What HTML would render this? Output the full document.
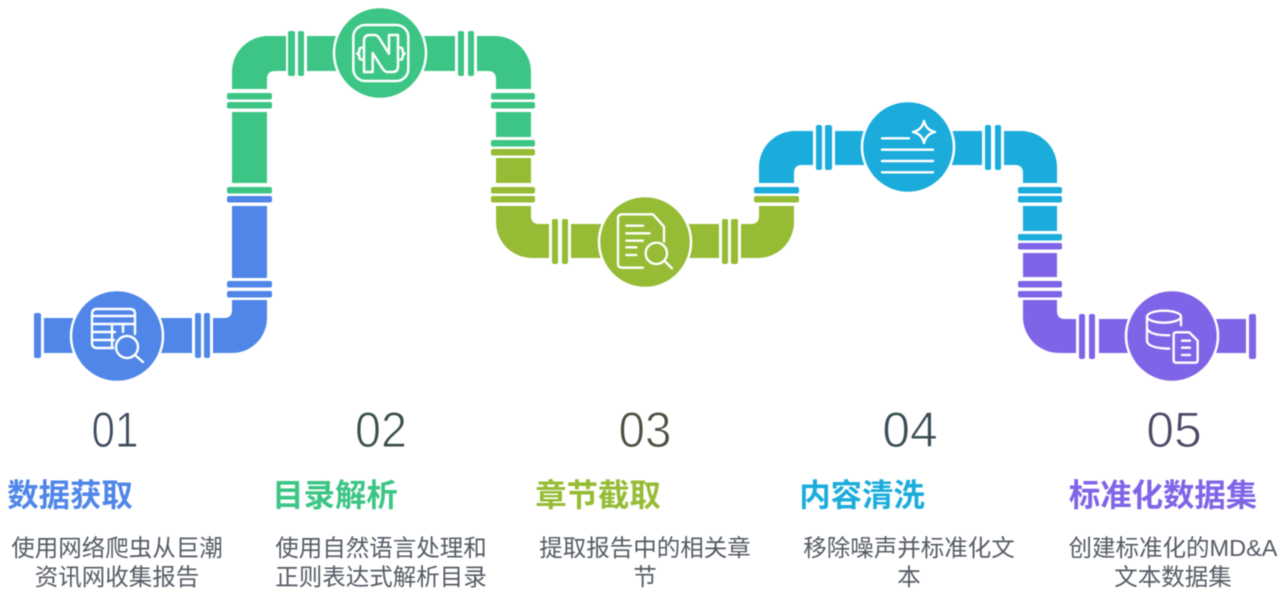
<!DOCTYPE html>
<html><head><meta charset="utf-8">
<style>
html,body{margin:0;padding:0;background:#fff;width:1281px;height:609px;overflow:hidden}
svg{display:block}
.i{fill:none;stroke:#fff;stroke-width:2.4;stroke-linecap:round;stroke-linejoin:round}
.n{font-family:"Liberation Sans",sans-serif;font-size:50px;text-anchor:middle;stroke:#fff;stroke-width:1px}
.t{font-family:"Liberation Sans","Noto Sans CJK SC",sans-serif;font-size:31.4px;font-weight:700;text-anchor:middle}
.b{font-family:"Liberation Sans","Noto Sans CJK SC",sans-serif;font-size:23.5px;text-anchor:middle;fill:#555b65}
.g{filter:blur(0.55px)}
</style></head><body>
<svg width="1281" height="609" viewBox="0 0 1281 609" xmlns="http://www.w3.org/2000/svg">
<g class="g">
<!-- blue -->
<g fill="#4f86e8">
<rect x="34" y="313" width="7" height="45" rx="2"/>
<rect x="44" y="318" width="40" height="35"/>
<rect x="150" y="318" width="42" height="35"/>
<rect x="195" y="313" width="6" height="45" rx="2"/>
<rect x="204" y="313" width="6" height="45" rx="2"/>
<path d="M213 318L224 318Q232 318 232 310L232 300L267 300L267 318A35 35 0 0 1 232 353L213 353Z"/>
<rect x="227" y="281" width="45" height="6.5" rx="2"/>
<rect x="227" y="291" width="45" height="6.5" rx="2"/>
<rect x="232" y="206" width="35" height="72"/>
<rect x="227" y="196" width="45" height="6.5" rx="2"/>
</g>
<!-- green -->
<g fill="#3cc584">
<rect x="227" y="187" width="45" height="6.5" rx="2"/>
<rect x="232" y="112" width="35" height="71"/>
<rect x="227" y="102" width="45" height="6.5" rx="2"/>
<rect x="227" y="93" width="45" height="6.5" rx="2"/>
<path d="M286 36L268 36A36 36 0 0 0 232 72L232 89L267 89L267 79Q267 71 275 71L286 71Z"/>
<rect x="288" y="31" width="7" height="45" rx="2"/>
<rect x="298" y="31" width="6" height="45" rx="2"/>
<rect x="307" y="36" width="40" height="35"/>
<rect x="415" y="36" width="40" height="35"/>
<rect x="458" y="31" width="6" height="45" rx="2"/>
<rect x="468" y="31" width="6" height="45" rx="2"/>
<path d="M477 36L495 36A36 36 0 0 1 531 72L531 89L496 89L496 79Q496 71 488 71L477 71Z"/>
<rect x="491" y="93" width="44" height="6.5" rx="2"/>
<rect x="491" y="102" width="44" height="6.5" rx="2"/>
<rect x="496" y="112" width="35" height="25"/>
<rect x="491" y="140" width="44" height="6.5" rx="2"/>
</g>
<!-- olive -->
<g fill="#96bc35">
<rect x="491" y="149" width="44" height="6.5" rx="2"/>
<rect x="496" y="158" width="35" height="25"/>
<rect x="491" y="187" width="44" height="6.5" rx="2"/>
<rect x="491" y="196" width="44" height="6.5" rx="2"/>
<path d="M496 206L531 206L531 216Q531 224 539 224L549 224L549 258L532 258A36 36 0 0 1 496 222Z"/>
<rect x="552" y="219" width="6" height="45" rx="2"/>
<rect x="562" y="219" width="6" height="45" rx="2"/>
<rect x="571" y="224" width="40" height="34"/>
<rect x="680" y="224" width="39" height="34"/>
<rect x="722" y="219" width="6" height="45" rx="2"/>
<rect x="731" y="219" width="7" height="45" rx="2"/>
<path d="M741 224L751 224Q759 224 759 216L759 206L794 206L794 222A36 36 0 0 1 758 258L741 258Z"/>
<rect x="754" y="196" width="45" height="6.5" rx="2"/>
</g>
<!-- cyan -->
<g fill="#1bacdc">
<rect x="754" y="187" width="45" height="6.5" rx="2"/>
<path d="M813 131L795 131A36 36 0 0 0 759 167L759 183L794 183L794 173Q794 165 802 165L813 165Z"/>
<rect x="816" y="125" width="6" height="45" rx="2"/>
<rect x="825" y="125" width="7" height="45" rx="2"/>
<rect x="835" y="131" width="40" height="34"/>
<rect x="942" y="131" width="40" height="34"/>
<rect x="985" y="125" width="6" height="45" rx="2"/>
<rect x="995" y="125" width="6" height="45" rx="2"/>
<path d="M1004 131L1021 131A36 36 0 0 1 1057 167L1057 183L1023 183L1023 173Q1023 165 1015 165L1004 165Z"/>
<rect x="1018" y="187" width="44" height="6.5" rx="2"/>
<rect x="1018" y="196" width="44" height="6.5" rx="2"/>
<rect x="1023" y="206" width="34" height="25"/>
<rect x="1018" y="234" width="44" height="6.5" rx="2"/>
</g>
<!-- purple -->
<g fill="#8064e8">
<rect x="1018" y="243" width="44" height="6.5" rx="2"/>
<rect x="1023" y="253" width="34" height="24"/>
<rect x="1018" y="281" width="44" height="6.5" rx="2"/>
<rect x="1018" y="291" width="44" height="6.5" rx="2"/>
<path d="M1023 300L1057 300L1057 311Q1057 319 1065 319L1076 319L1076 353L1059 353A36 36 0 0 1 1023 317Z"/>
<rect x="1079" y="314" width="6" height="45" rx="2"/>
<rect x="1089" y="314" width="6" height="45" rx="2"/>
<rect x="1099" y="319" width="40" height="34"/>
<rect x="1206" y="319" width="40" height="34"/>
<rect x="1249" y="314" width="7" height="45" rx="2"/>
</g>
<!-- circles -->
<g stroke="#fff" stroke-width="2.5">
<circle cx="117" cy="336" r="46" fill="#4f86e8"/>
<circle cx="380" cy="53" r="46" fill="#3cc584"/>
<circle cx="645" cy="242" r="46" fill="#96bc35"/>
<circle cx="908" cy="147" r="46" fill="#1bacdc"/>
<circle cx="1172" cy="336" r="46" fill="#8064e8"/>
</g>
<!-- icon 1 -->
<g class="i">
<path d="M113 348L97 348Q92 348 92 343L92 314Q92 309 97 309L130 309Q135 309 135 314L135 334"/>
<path d="M92 316L135 316M92 324L135 324M92 332L115 332M92 340L114 340M112 324L112 348M123 324L123 332"/>
<circle cx="127" cy="347" r="11"/>
<path d="M135 355L143 362"/>
</g>
<!-- icon 2 -->
<g class="i" transform="translate(344 17) scale(.3333)" style="stroke-width:7.5">
<rect x="28" y="24" width="165" height="168" rx="36"/>
<path d="M60 165L60 72Q60 54 77 54L92 54Q100 54 106 64L135 110L135 54L162 54L162 147Q162 165 146 165L130 165Q122 165 116 155L86 108L86 165Z"/>
<path d="M53 92Q46 92 46 100L46 105L40 110L46 115L46 120Q46 128 53 128"/>
<path d="M169 92Q176 92 176 100L176 105L182 110L176 115L176 120Q176 128 169 128"/>
</g>
<!-- icon 3 -->
<g class="i" transform="translate(608 205) scale(.3333)" style="stroke-width:7">
<path d="M168 110L168 65L135 28L42 28Q30 28 30 40L30 176Q30 188 42 188L105 188"/>
<path d="M55 62L105 62M55 85L125 85M55 107L105 107M55 127L85 127M55 150L85 150"/>
<circle cx="145" cy="145" r="32"/>
<path d="M172 170L192 190"/>
</g>
<!-- icon 4 -->
<g class="i">
<path d="M882 138.3L909 138.3M882 149.7L933 149.7M882 161L933 161M882 172.3L933 172.3"/>
<path d="M924 121Q926 130 935 132Q926 134 924 143Q922 134 913 132Q922 130 924 121Z"/>
</g>
<!-- icon 5 -->
<g class="i" transform="translate(1136 300) scale(.3333)" style="stroke-width:7">
<ellipse cx="84" cy="50" rx="51" ry="18"/>
<path d="M33 50L33 125Q40 145 100 146M33 85Q40 106 100 106M135 50L135 76"/>
<path d="M113 105Q113 97 121 97L160 97L185 122L185 180Q185 188 177 188L121 188Q113 188 113 180Z"/>
<path d="M138 122L162 122M138 143L162 143M138 165L162 165"/>
</g>
<!-- numbers -->
<text class="n" x="115" y="447" fill="#3f4a5f" textLength="47" lengthAdjust="spacingAndGlyphs">01</text>
<text class="n" x="381" y="447" fill="#3b4f48" textLength="52" lengthAdjust="spacingAndGlyphs">02</text>
<text class="n" x="645" y="447" fill="#4a5040" textLength="53" lengthAdjust="spacingAndGlyphs">03</text>
<text class="n" x="910" y="447" fill="#3b4e55">04</text>
<text class="n" x="1174" y="447" fill="#4a4a66">05</text>
<!-- titles -->
<text class="t" x="70" y="506" fill="#4f86e8">数据获取</text>
<text class="t" x="335" y="506" fill="#3cc584">目录解析</text>
<text class="t" x="598" y="506" fill="#96bc35">章节截取</text>
<text class="t" x="862" y="506" fill="#1bacdc">内容清洗</text>
<text class="t" x="1163" y="506" fill="#8064e8">标准化数据集</text>
<!-- body -->
<text class="b" x="117" y="556">使用网络爬虫从巨潮</text>
<text class="b" x="117" y="585">资讯网收集报告</text>
<text class="b" x="381" y="556">使用自然语言处理和</text>
<text class="b" x="381" y="585">正则表达式解析目录</text>
<text class="b" x="645" y="556">提取报告中的相关章</text>
<text class="b" x="645" y="585">节</text>
<text class="b" x="909" y="556">移除噪声并标准化文</text>
<text class="b" x="909" y="585">本</text>
<text class="b" x="1173" y="556">创建标准化的MD&amp;A</text>
<text class="b" x="1173" y="585">文本数据集</text>
</g>
</svg>
</body></html>
